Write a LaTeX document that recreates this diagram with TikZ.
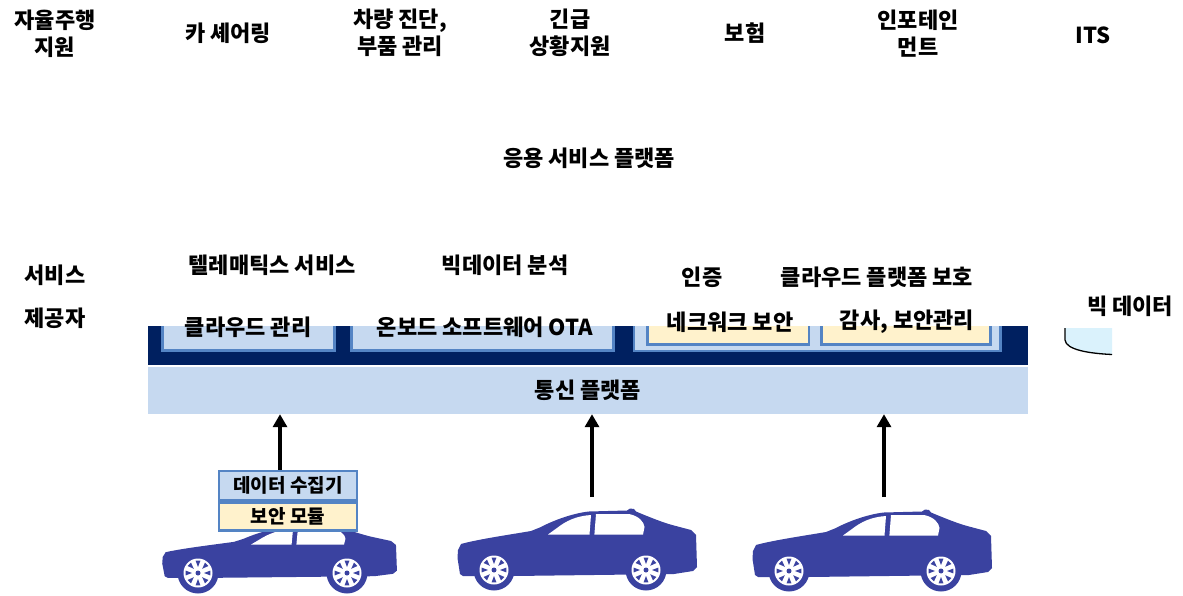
\documentclass[tikz,border=0pt]{standalone}
\usepackage{fontspec}
\setmainfont{Noto Sans CJK KR}
\usetikzlibrary{arrows.meta}

\definecolor{navyband}{RGB}{0,32,96}
\definecolor{paleblue}{RGB}{198,217,240}
\definecolor{edgeblue}{RGB}{84,132,196}
\definecolor{paleyellow}{RGB}{255,242,204}
\definecolor{carblue}{RGB}{58,66,160}
\definecolor{cylfill}{RGB}{218,242,252}

\tikzset{
  lbl/.style={font=\bfseries\fontsize{22}{27}\selectfont, align=center, inner sep=0pt, text=black},
  smalllbl/.style={font=\bfseries\fontsize{19}{21}\selectfont, inner sep=0pt, text=black},
  innerbox/.style={fill=paleblue, draw=edgeblue, line width=2.5pt},
  yellowbox/.style={fill=paleyellow, draw=edgeblue, line width=2.5pt},
  uparrow/.style={line width=3.5pt, -{Triangle[width=14pt,length=13pt]}},
  carbody/.pic={
    \fill[carblue] (-31,6) -- (-34,4) -- (-36.5,-12) -- (-36,-20) -- (-33,-26)
      .. controls (-15,-31) and (20,-36) .. (37,-39)
      -- (47,-43)
      .. controls (60,-50) and (80,-57) .. (95,-58.5)
      -- (133,-59.5) -- (136,-61.5) -- (140,-61) -- (142,-58.5)
      .. controls (155,-53) and (170,-47) .. (180,-44.5)
      -- (197,-40) -- (202,-35) -- (203,-3) -- (199,1) -- (180,4) -- (20,6) -- cycle;
    \fill[white] (54,-35.5) -- (63,-42) .. controls (72,-49) and (82,-54) .. (97,-55)
      -- (95.5,-35.5) -- cycle;
    \fill[white] (102,-56) -- (135,-56) .. controls (145,-54) and (150,-48) .. (150.5,-43)
      -- (149,-35.5) -- (100.4,-35.5) -- cycle;
  },
  wheel/.pic={
    \fill[carblue] (0,0) circle (20.5pt);
    \fill[white] (0,0) circle (14.5pt);
    \foreach \a in {0,45,...,315}{
      \fill[carblue] (\a:6pt) -- (\a-11:12.5pt) -- (\a+11:12.5pt) -- cycle;
    }
    \fill[carblue] (0,0) circle (2.5pt);
  }
}

\begin{document}
\begin{tikzpicture}[x=1pt,y=-1pt]
\useasboundingbox (0,0) rectangle (1183,596);

% service row
\node[lbl] (svc1) at (55,34) {자율주행\\지원};
\node[lbl] (svc2) at (228,33) {카 셰어링};
\node[lbl] (svc3) at (400,33) {차량 진단,\\부품 관리};
\node[lbl] (svc4) at (570,33) {긴급\\상황지원};
\node[lbl] (svc5) at (745,33) {보험};
\node[lbl] (svc6) at (918,34) {인포테인\\먼트};
\node[lbl] (svc7) at (1093,35) {ITS};

\node[lbl] (app) at (589,158) {응용 서비스 플랫폼};

\node[lbl, font=\bfseries\fontsize{22}{43}\selectfont] (provider) at (55,297) {서비스\\제공자};

\node[lbl] (tele) at (272,265) {텔레매틱스 서비스};
\node[lbl] (bigan) at (505,265) {빅데이터 분석};
\node[lbl] (auth) at (702,277) {인증};
\node[lbl] (cloudprot) at (877,277) {클라우드 플랫폼 보호};

% dark platform band with its modules
\begin{scope}
  \clip (148,326) rectangle (1028,365);
  \fill[navyband] (148,326) rectangle (1028,365);
  \filldraw[innerbox] (162.5,300) rectangle (334.5,350.5);
  \filldraw[innerbox] (351.5,300) rectangle (613.5,350.5);
  \filldraw[innerbox] (634,300) rectangle (1000.5,351);
  \filldraw[yellowbox] (647.5,300) rectangle (809,344.5);
  \filldraw[yellowbox] (821.5,300) rectangle (990.5,344.5);
\end{scope}
\node[lbl] (cloudmgmt) at (248,327) {클라우드 관리};
\node[lbl] (ota) at (485,327) {온보드 소프트웨어 OTA};
\node[lbl] (netsec) at (730,322) {네크워크 보안};
\node[lbl] (audit) at (907,322) {감사, 보안관리};

% communication platform
\node[lbl, fill=paleblue, minimum width=880pt, minimum height=47pt] (comm) at (588,390.5) {통신 플랫폼};

% big data store
\node[lbl] (bigdata) at (1130,306) {빅 데이터};
\fill[cylfill] (1065,328) -- (1065,340) .. controls (1066,350) and (1090,353.5) .. (1112,354.5) -- (1112,328) -- cycle;
\draw[line width=1.3pt] (1065,328) -- (1065,340) .. controls (1066,350) and (1090,353.5) .. (1112,354.5);

% vehicles
\pic[xscale=0.98, yscale=0.8] at (198,573) {carbody};
\pic at (198,573) {wheel};
\pic at (347,573) {wheel};

\pic at (494,570) {carbody};
\pic at (494,570) {wheel};
\pic at (646,570) {wheel};

\pic at (789,571) {carbody};
\pic at (789,571) {wheel};
\pic at (941,571) {wheel};

% on-board modules of the first vehicle
\node[smalllbl, fill=paleblue, draw=edgeblue, line width=2.5pt, minimum width=138pt, minimum height=29pt] (collector) at (288,485.5) {데이터 수집기};
\node[smalllbl, fill=paleyellow, draw=edgeblue, line width=2.5pt, minimum width=138pt, minimum height=28pt, anchor=north] (secmod) at (collector.south) {보안 모듈};

\coordinate (car2top) at (592,497);
\coordinate (car3top) at (884,497);

% uplinks
\draw[uparrow] ([xshift=-8pt]collector.north) -- ([xshift=-8pt]collector.north |- comm.south);
\draw[uparrow] (car2top) -- (car2top |- comm.south);
\draw[uparrow] (car3top) -- (car3top |- comm.south);
\end{tikzpicture}
\end{document}
